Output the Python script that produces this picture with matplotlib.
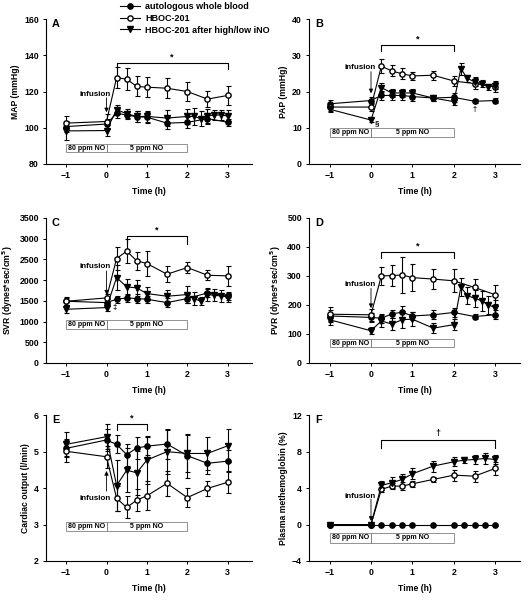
import matplotlib
matplotlib.use("Agg")
import matplotlib.pyplot as plt
from matplotlib.lines import Line2D
from matplotlib.patches import Rectangle

plt.rcParams["font.family"] = ["Liberation Sans", "DejaVu Sans"]
plt.rcParams["font.weight"] = "bold"
plt.rcParams["axes.labelweight"] = "bold"

# time points
t_std = [-1, 0, 0.25, 0.5, 0.75, 1, 1.5, 2, 2.5, 3]
t_ino = [-1, 0, 0.25, 0.5, 0.75, 1, 1.5, 2, 2.17, 2.33, 2.5, 2.67, 2.83, 3]
t_met_blood = [-1, 0, 0.25, 0.5, 0.75, 1, 1.5, 2, 2.25, 2.5, 2.75, 3]
t_met_ino = [-1, 0, 0.25, 0.5, 0.75, 1, 1.5, 2, 2.25, 2.5, 2.75, 3]

# A: MAP
map_blood = [100.6, 102, 108, 107, 106, 105.8, 102.5, 102.9, 105, 103]
map_blood_err = [3, 3, 2.5, 2, 3, 3, 3, 3, 3, 2]
map_hboc = [102.5, 103.4, 127.7, 126.8, 122.8, 122.4, 121.8, 120, 115.8, 117.8]
map_hboc_err = [4, 4, 6, 6, 5.5, 5.5, 5.5, 5.5, 4.5, 5]
map_ino = [98.2, 98.4, 110, 107.7, 106.2, 106.2, 105.3, 106.2, 106.2, 105, 106.5, 107, 107, 106.5]
map_ino_err = [5, 3, 2.5, 2.5, 3, 3, 4.5, 4, 4.5, 4, 4, 3, 3, 3]

# B: PAP
pap_blood = [16.6, 17.5, 18.9, 18.9, 18.9, 18.6, 18.2, 18.4, 17.3, 17.5]
pap_blood_err = [1, 1, 1.2, 1.2, 1.2, 1.2, 0.8, 1.2, 0.6, 0.8]
pap_hboc = [15.7, 15.7, 27.0, 25.7, 24.9, 24.3, 24.5, 22.9, 22.2, 21.3]
pap_hboc_err = [1, 1, 2, 1.5, 1.5, 1.2, 1.2, 1.5, 1.5, 1.5]
pap_ino = [15.1, 12.1, 21.1, 19.6, 19.6, 19.6, 18.2, 17.2, 26.3, 23.6, 22.7, 22.2, 21.3, 21.6]
pap_ino_err = [0.7, 0.6, 1.2, 1, 1, 1, 0.8, 1, 1.6, 1, 1.2, 1, 0.8, 1]

# C: SVR
svr_blood = [1488, 1456, 1537, 1569, 1553, 1537, 1456, 1553, 1690, 1609]
svr_blood_err = [80, 80, 80, 100, 110, 90, 100, 100, 100, 90]
svr_hboc = [1488, 1569, 2518, 2695, 2462, 2398, 2140, 2301, 2116, 2100]
svr_hboc_err = [100, 100, 270, 290, 220, 300, 190, 140, 120, 250]
svr_ino = [1295, 1336, 2060, 1835, 1810, 1674, 1609, 1650, 1553, 1488, 1650, 1633, 1617, 1593]
svr_ino_err = [100, 80, 300, 200, 200, 150, 150, 200, 150, 100, 150, 150, 150, 120]

# D: PVR
pvr_blood = [162, 157, 154, 169, 175, 162, 166, 174, 160, 166]
pvr_blood_err = [20, 15, 15, 15, 22, 15, 15, 15, 10, 15]
pvr_hboc = [168, 166, 300, 301, 303, 294, 289, 283, 260, 235]
pvr_hboc_err = [25, 20, 30, 37, 63, 47, 35, 40, 28, 33]
pvr_ino = [149, 111, 145, 134, 149, 151, 120, 132, 261, 232, 223, 214, 200, 191]
pvr_ino_err = [18, 12, 20, 20, 30, 25, 18, 20, 30, 30, 30, 35, 30, 25]

# E: cardiac output
co_blood = [5.09, 5.32, 5.2, 4.92, 5.1, 5.15, 5.21, 4.89, 4.68, 4.74]
co_blood_err = [0.25, 0.3, 0.25, 0.3, 0.3, 0.25, 0.4, 0.6, 0.3, 0.3]
co_hboc = [5.01, 4.86, 3.72, 3.47, 3.67, 3.79, 4.13, 3.74, 3.99, 4.16]
co_hboc_err = [0.3, 0.3, 0.35, 0.3, 0.3, 0.4, 0.35, 0.25, 0.2, 0.3]
co_ino = [5.2, 5.41, 4.07, 4.49, 4.42, 4.77, 5.0, 4.95, 4.95, 5.16]
co_ino_err = [0.33, 0.35, 0.7, 0.6, 0.6, 0.65, 0.6, 0.5, 0.45, 0.45]

# F: plasma methemoglobin
met_blood = [0, 0, 0, 0, 0, 0, 0, 0, 0, 0, 0, 0]
met_blood_err = [0, 0, 0, 0, 0, 0, 0, 0, 0, 0, 0, 0]
met_hboc = [0, 0, 3.85, 4.22, 4.22, 4.47, 4.95, 5.42, 5.31, 6.16]
met_hboc_err = [0, 0, 0.3, 0.3, 0.4, 0.3, 0.3, 0.6, 0.6, 0.7]
met_ino = [0, 0, 4.3, 4.58, 4.95, 5.57, 6.41, 6.89, 7.07, 7.14, 7.25, 7.14]
met_ino_err = [0, 0, 0.5, 0.6, 0.6, 0.6, 0.6, 0.5, 0.3, 0.5, 0.6, 0.5]

legend_labels = ["autologous whole blood", "HBOC-201", "HBOC-201 after high/low iNO"]

MS = 3.8
LW = 0.8


def series(ax, t, y, err, marker, face):
    ax.errorbar(t, y, yerr=err, fmt=marker + "-", color="black", mfc=face,
                mec="black", ms=MS, lw=LW, elinewidth=0.8, capsize=1.8,
                capthick=0.8, zorder=3)


def panel(ax, letter, ylim, yticks, ylabel, data, bracket, mark, infusion, box):
    for t, y, err, marker, face in data:
        series(ax, t, y, err, marker, face)
    ax.set_xlim(-1.5, 3.6)
    ax.set_ylim(*ylim)
    ax.set_yticks(yticks)
    ax.set_xticks([-1, 0, 1, 2, 3])
    ax.set_xlabel("Time (h)", fontsize=6.2, labelpad=5)
    ax.set_ylabel(ylabel, fontsize=6.2, labelpad=3)
    ax.tick_params(labelsize=6.3, length=2.5, width=0.7, pad=2.5)
    for s in ["top", "right"]:
        ax.spines[s].set_visible(False)
    for s in ["left", "bottom"]:
        ax.spines[s].set_linewidth(0.8)
    ax.text(-1.35, ylim[1], letter, fontsize=7.8, fontweight="bold", va="top")

    # significance bracket
    x0, x1, ytop, ylow = bracket
    ax.plot([x0, x0, x1, x1], [ylow, ytop, ytop, ylow], color="black", lw=0.8)
    span = ylim[1] - ylim[0]
    ax.text((x0 + x1) / 2, ytop + 0.01 * span, mark, ha="center", va="bottom", fontsize=6.5)

    # infusion arrow
    ytext, ystart, yend = infusion
    ax.annotate("", xy=(0, yend), xytext=(0, ystart),
                arrowprops=dict(arrowstyle="-|>", color="black", lw=0.6,
                                mutation_scale=6, shrinkA=0, shrinkB=0))
    ax.text(-0.27, ytext, "infusion", ha="center", va="center", fontsize=5.8)

    # NO boxes
    b0, b1 = box
    ax.add_patch(Rectangle((-1, b0), 1, b1 - b0, fill=False, ec="gray", lw=0.6))
    ax.add_patch(Rectangle((0, b0), 2, b1 - b0, fill=False, ec="gray", lw=0.6))
    ax.text(-0.5, (b0 + b1) / 2, "80 ppm NO", ha="center", va="center", fontsize=5)
    ax.text(1, (b0 + b1) / 2, "5 ppm NO", ha="center", va="center", fontsize=5)


fig = plt.figure(figsize=(5.28, 6.0), dpi=100)
lx, rx, w_l, w_r = 0.087, 0.585, 0.39, 0.40
rows = [(0.727, 0.241), (0.395, 0.242), (0.065, 0.243)]

axA = fig.add_axes([lx, rows[0][0], w_l, rows[0][1]])
axB = fig.add_axes([rx, rows[0][0], w_r, rows[0][1]])
axC = fig.add_axes([lx, rows[1][0], w_l, rows[1][1]])
axD = fig.add_axes([rx, rows[1][0], w_r, rows[1][1]])
axE = fig.add_axes([lx, rows[2][0], w_l, rows[2][1]])
axF = fig.add_axes([rx, rows[2][0], w_r, rows[2][1]])

panel(axA, "A", (80, 160), [80, 100, 120, 140, 160], "MAP (mmHg)",
      [(t_std, map_blood, map_blood_err, "o", "black"),
       (t_std, map_hboc, map_hboc_err, "o", "white"),
       (t_ino, map_ino, map_ino_err, "v", "black")],
      (0.25, 3, 135.7, 132.3), "*", (118.5, 116.5, 108.5), (86.3, 91.1))

panel(axB, "B", (0, 40), [0, 10, 20, 30, 40], "PAP (mmHg)",
      [(t_std, pap_blood, pap_blood_err, "o", "black"),
       (t_std, pap_hboc, pap_hboc_err, "o", "white"),
       (t_ino, pap_ino, pap_ino_err, "v", "black")],
      (0.25, 2, 32.9, 31.1), "*", (26.6, 25.5, 19.5), (7.3, 9.8))
axB.text(0.1, 11.0, "§", fontsize=5.8, va="center")
axB.text(2.5, 15.0, "†", fontsize=5.5, ha="center", va="center")

panel(axC, "C", (0, 3500), [0, 500, 1000, 1500, 2000, 2500, 3000, 3500],
      "SVR (dynes*sec/cm$^\\mathbf{5}$)",
      [(t_std, svr_blood, svr_blood_err, "o", "black"),
       (t_std, svr_hboc, svr_hboc_err, "o", "white"),
       (t_ino, svr_ino, svr_ino_err, "v", "black")],
      (0.5, 2, 3065, 2880), "*", (2320, 2220, 1650), (829, 1030))
axC.text(0.2, 1330, "‡", fontsize=5.5, ha="center", va="center")

panel(axD, "D", (0, 500), [0, 100, 200, 300, 400, 500],
      "PVR (dynes*sec/cm$^\\mathbf{5}$)",
      [(t_std, pvr_blood, pvr_blood_err, "o", "black"),
       (t_std, pvr_hboc, pvr_hboc_err, "o", "white"),
       (t_ino, pvr_ino, pvr_ino_err, "v", "black")],
      (0.25, 2, 383, 360), "*", (269, 257, 189), (54, 83))

panel(axE, "E", (2, 6), [2, 3, 4, 5, 6], "Cardiac output (l/min)",
      [(t_std, co_blood, co_blood_err, "o", "black"),
       (t_std, co_hboc, co_hboc_err, "o", "white"),
       (t_std, co_ino, co_ino_err, "v", "black")],
      (0.25, 1, 5.77, 5.59), "*", (3.72, 3.92, 4.47), (2.83, 3.08))

panel(axF, "F", (-4, 12), [-4, 0, 4, 8, 12], "Plasma methemoglobin (%)",
      [(t_std, met_hboc, met_hboc_err, "o", "white"),
       (t_met_ino, met_ino, met_ino_err, "v", "black"),
       (t_met_blood, met_blood, met_blood_err, "o", "black")],
      (0.25, 3, 9.33, 8.42), "†", (3.12, 2.8, 0.4), (-2.0, -0.9))

handles = [
    Line2D([], [], color="black", marker="o", mfc="black", ms=MS, lw=LW),
    Line2D([], [], color="black", marker="o", mfc="white", ms=MS, lw=LW),
    Line2D([], [], color="black", marker="v", mfc="black", ms=MS, lw=LW),
]
fig.legend(handles, legend_labels, loc="upper left", bbox_to_anchor=(0.215, 1.007),
           frameon=False, fontsize=6.5, handlelength=2.2, handletextpad=0.6,
           labelspacing=0.3, borderpad=0.2)

fig.savefig("out.png", dpi=100)
